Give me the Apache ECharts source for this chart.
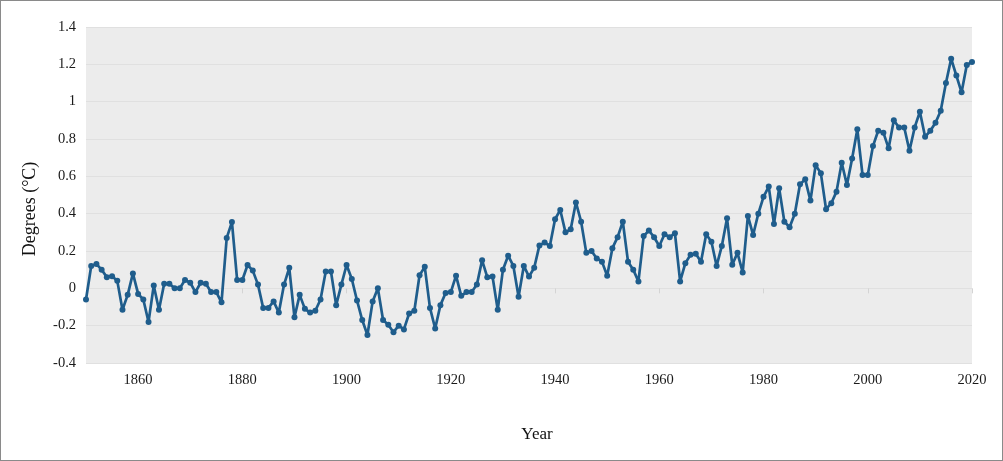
<!DOCTYPE html>
<html>
<head>
<meta charset="utf-8">
<script src="https://cdn.jsdelivr.net/npm/echarts@6/dist/echarts.min.js"></script>
<style>
html,body{margin:0;padding:0;background:#fff;}
#chart{width:1001px;height:459px;border:1px solid #8a8a8a;}
</style>
</head>
<body>
<div id="chart"></div>
<script>
const startYear = 1850;
const temps = [
  -0.06, 0.12, 0.13, 0.10, 0.06, 0.065, 0.04, -0.115, -0.035, 0.08,
  -0.03, -0.06, -0.18, 0.015, -0.115, 0.025, 0.025, 0.0, 0.0, 0.045,
  0.03, -0.02, 0.03, 0.025, -0.02, -0.02, -0.075, 0.27, 0.355, 0.045,
  0.045, 0.125, 0.095, 0.02, -0.105, -0.105, -0.07, -0.13, 0.02, 0.11,
  -0.155, -0.035, -0.11, -0.13, -0.12, -0.06, 0.09, 0.09, -0.09, 0.02,
  0.125, 0.05, -0.065, -0.17, -0.25, -0.07, 0.0, -0.17, -0.195, -0.235,
  -0.2, -0.22, -0.135, -0.12, 0.07, 0.115, -0.105, -0.215, -0.09, -0.025,
  -0.02, 0.068, -0.04, -0.02, -0.02, 0.02, 0.15, 0.06, 0.063, -0.115,
  0.1, 0.175, 0.12, -0.045, 0.12, 0.063, 0.11, 0.23, 0.245, 0.227,
  0.37, 0.42, 0.30, 0.316, 0.46, 0.357, 0.19, 0.2, 0.16, 0.143,
  0.067, 0.215, 0.274, 0.357, 0.143, 0.1, 0.037, 0.28, 0.31, 0.274,
  0.227, 0.29, 0.274, 0.295, 0.037, 0.135, 0.18, 0.185, 0.143, 0.29,
  0.25, 0.12, 0.227, 0.375, 0.126, 0.19, 0.085, 0.388, 0.286, 0.4,
  0.49, 0.545, 0.345, 0.536, 0.357, 0.327, 0.4, 0.557, 0.584, 0.47,
  0.66, 0.616, 0.424, 0.456, 0.518, 0.673, 0.554, 0.696, 0.852, 0.607,
  0.607, 0.762, 0.844, 0.834, 0.75, 0.90, 0.862, 0.862, 0.737, 0.862,
  0.946, 0.812, 0.844, 0.887, 0.951, 1.10, 1.23, 1.14, 1.05, 1.196,
  1.213
];
const years = temps.map((_, i) => startYear + i);
const xTickLabels = [1860, 1880, 1900, 1920, 1940, 1960, 1980, 2000, 2020];
const yTickLabels = [-0.4, -0.2, 0, 0.2, 0.4, 0.6, 0.8, 1, 1.2, 1.4];
const xTitle = 'Year';
const yTitle = 'Degrees (°C)';

const chart = echarts.init(document.getElementById('chart'));
const font = '"Liberation Serif", "DejaVu Serif", serif';
chart.setOption({
  animation: false,
  backgroundColor: '#fff',
  grid: {
    left: 85, right: 30, top: 26, bottom: 97,
    show: true, backgroundColor: '#ececec', borderWidth: 0
  },
  xAxis: {
    type: 'value',
    min: 1850, max: 2020, interval: 10,
    name: xTitle,
    nameLocation: 'middle',
    nameGap: 63,
    nameTextStyle: { fontFamily: font, fontSize: 17, color: '#111', padding: [0, 0, 0, 16] },
    axisLine: { show: false },
    axisTick: { show: true, length: 5, lineStyle: { color: '#d4d4d4' }, customValues: xTickLabels },
    axisLabel: { fontFamily: font, fontSize: 14.5, color: '#1a1a1a', margin: 10, customValues: xTickLabels, formatter: v => String(v) },
    splitLine: { show: false }
  },
  yAxis: {
    type: 'value',
    min: yTickLabels[0], max: yTickLabels[yTickLabels.length - 1], interval: 0.2,
    name: yTitle,
    nameLocation: 'middle',
    nameRotate: 90,
    nameGap: 47,
    nameTextStyle: { fontFamily: font, fontSize: 18, color: '#111', padding: [0, 0, 0, -28] },
    axisLine: { show: false },
    axisTick: { show: false },
    axisLabel: { fontFamily: font, fontSize: 14.5, color: '#1a1a1a', margin: 10, padding: [4, 0, 0, 0],
      formatter: v => String(Math.round(v * 10) / 10) },
    splitLine: { show: true, lineStyle: { color: '#e0e0e0', width: 1 } }
  },
  series: [{
    type: 'line',
    data: years.map((y, i) => [y, temps[i]]),
    symbol: 'circle',
    symbolSize: 6,
    showAllSymbol: true,
    lineStyle: { color: '#1f5d8c', width: 2.7 },
    itemStyle: { color: '#1f5d8c' }
  }]
});
</script>
</body>
</html>
